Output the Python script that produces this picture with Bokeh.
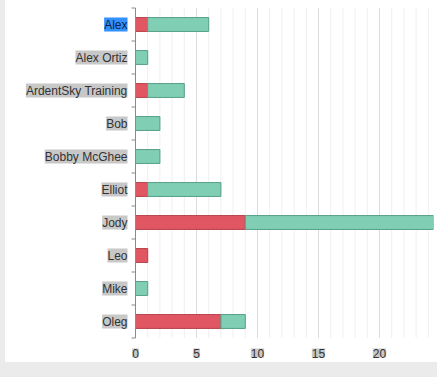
from math import pi
from bokeh.plotting import figure
from bokeh.models import ColumnDataSource, Range1d, Spacer
from bokeh.layouts import column, row
from bokeh.core.properties import value
from bokeh.embed import file_html
from bokeh.resources import INLINE

names = ["Alex", "Alex Ortiz", "ArdentSky Training", "Bob", "Bobby McGhee",
         "Elliot", "Jody", "Leo", "Mike", "Oleg"]
red_vals = [1, 0, 1, 0, 0, 1, 9, 1, 0, 7]
green_vals = [5, 1, 3, 2, 2, 6, 16, 0, 1, 2]
x_ticks = [0, 5, 10, 15, 20]
x_minor = list(range(1, 25))
selected = "Alex"

FONT = value("Liberation Sans")
n = len(names)
pos = [i + 0.5 for i in range(n)]
bounds = list(range(n + 1))

red_src = ColumnDataSource(dict(
    y=[p for p, r in zip(pos, red_vals) if r > 0],
    left=[0 for r in red_vals if r > 0],
    right=[r for r in red_vals if r > 0]))
green_src = ColumnDataSource(dict(
    y=[p for p, g in zip(pos, green_vals) if g > 0],
    left=[r for r, g in zip(red_vals, green_vals) if g > 0],
    right=[r + g for r, g in zip(red_vals, green_vals) if g > 0]))

# frame spans the whole figure; the chart's own axes are drawn inside it
px_per_unit = 12.2
zero_px = 130.0      # from frame left
frame_w = 428
frame_h = 362
row_px = 33.0
top_px = 7.5
x_range = Range1d(-zero_px / px_per_unit, (frame_w - zero_px) / px_per_unit)
y_range = Range1d((frame_h - top_px) / row_px, -top_px / row_px)

p = figure(width=frame_w + 4, height=frame_h, output_backend="svg", toolbar_location=None,
           x_range=x_range, y_range=y_range,
           min_border_left=0, min_border_right=4, min_border_top=0, min_border_bottom=0,
           x_axis_location=None, y_axis_location=None)
p.outline_line_color = None
p.grid.visible = False
p.background_fill_color = "white"
p.border_fill_color = "white"

# vertical grid lines
minor_only = [v for v in x_minor if v not in x_ticks]
p.segment(x0=minor_only, x1=minor_only, y0=0, y1=n, line_color="#efefef", line_width=1)
major_only = [v for v in x_ticks if v != 0]
p.segment(x0=major_only, x1=major_only, y0=0, y1=n, line_color="#dcdcdc", line_width=1)

# bars
p.hbar(y="y", left="left", right="right", height=0.42, source=red_src,
       fill_color="#e05663", line_color="#b8404c", line_width=1)
p.hbar(y="y", left="left", right="right", height=0.42, source=green_src,
       fill_color="#80cfb5", line_color="#559f86", line_width=1)

# y axis line and ticks at category boundaries
p.segment(x0=[0], x1=[0], y0=[0], y1=[n], line_color="#8a8a8a", line_width=1)
p.ray(x=[0] * len(bounds), y=bounds, length=4, length_units="screen", angle=pi,
      line_color="#8a8a8a", line_width=1)

# y labels
bg = ["#3390ff" if nm == selected else "#c8c8c8" for nm in names]
fg = ["#0f2347" if nm == selected else "#333333" for nm in names]
p.text(x=[0] * n, y=pos, text=names, x_offset=-8, text_align="right", text_baseline="middle",
       text_font=FONT, text_font_size="12px", text_color=fg, background_fill_color=bg)

# x tick labels
p.text(x=x_ticks, y=[n] * len(x_ticks), text=[str(t) for t in x_ticks], y_offset=15,
       text_align="center", text_baseline="middle", text_font=FONT, text_font_size="12px",
       text_color="#333333", background_fill_color="#c8c8c8")

left_strip = Spacer(width=5, height=377, styles={"background-color": "#ebebeb"})
bottom = Spacer(width=frame_w + 4, height=15, styles={"background-color": "#ebebeb"})
layout = row(left_strip, column(p, bottom, spacing=0), spacing=0)

open("out.html", "w").write(file_html(layout, INLINE))
